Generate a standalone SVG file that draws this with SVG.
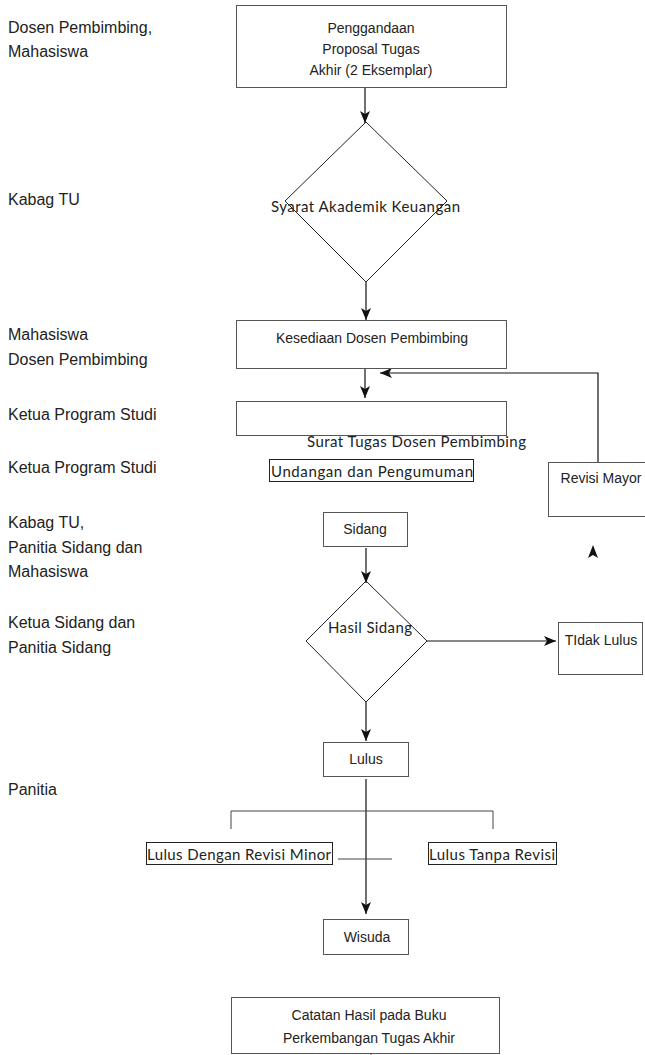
<svg xmlns="http://www.w3.org/2000/svg" width="645" height="1055" viewBox="0 0 645 1055">
<defs>
<style>
.lbl{font-family:"Liberation Sans",Arial,sans-serif;font-size:16px;fill:#222}
.t{font-family:"Liberation Sans",Arial,sans-serif;font-size:14px;fill:#222;text-anchor:middle}
.c{font-family:Lato,"Open Sans",sans-serif;font-size:15px;fill:#222}
.box{fill:#fff;stroke:#555;stroke-width:1}
.tbox{fill:none;stroke:#222;stroke-width:1}
.ln{fill:none;stroke:#111;stroke-width:1.2}
.gl{fill:none;stroke:#444;stroke-width:1}
</style>
<marker id="ah" viewBox="0 0 12 10" refX="12" refY="5" markerWidth="12" markerHeight="10" markerUnits="userSpaceOnUse" orient="auto">
<path d="M0,0 L12,5 L0,10 L3,5 z" fill="#111"/>
</marker>
</defs>
<rect width="645" height="1055" fill="#fff"/>

<g id="lanes">
<text class="lbl" x="8" y="33">Dosen Pembimbing,</text>
<text class="lbl" x="8" y="57">Mahasiswa</text>
<text class="lbl" x="8" y="205">Kabag TU</text>
<text class="lbl" x="8" y="340">Mahasiswa</text>
<text class="lbl" x="8" y="365">Dosen Pembimbing</text>
<text class="lbl" x="8" y="420">Ketua Program Studi</text>
<text class="lbl" x="8" y="473">Ketua Program Studi</text>
<text class="lbl" x="8" y="528">Kabag TU,</text>
<text class="lbl" x="8" y="553">Panitia Sidang dan</text>
<text class="lbl" x="8" y="577">Mahasiswa</text>
<text class="lbl" x="8" y="628">Ketua Sidang dan</text>
<text class="lbl" x="8" y="653">Panitia Sidang</text>
<text class="lbl" x="8" y="795">Panitia</text>
</g>

<g id="connectors">
<line class="ln" x1="365" y1="87" x2="365" y2="123" marker-end="url(#ah)"/>
<line class="ln" x1="366" y1="282" x2="366" y2="320" marker-end="url(#ah)"/>
<line class="ln" x1="365" y1="359" x2="365" y2="398" marker-end="url(#ah)"/>
<polyline class="ln" points="598,462 598,373 380,373" marker-end="url(#ah)"/>
<line class="ln" x1="366" y1="548" x2="366" y2="583" marker-end="url(#ah)"/>
<line class="ln" x1="427" y1="641" x2="556" y2="641" marker-end="url(#ah)"/>
<line class="ln" x1="366" y1="702" x2="366" y2="741" marker-end="url(#ah)"/>
<line class="ln" x1="366" y1="779" x2="366" y2="914" marker-end="url(#ah)"/>
<polyline class="gl" points="231,829 231,811 493,811 493,829"/>
<line class="gl" x1="338" y1="859" x2="392" y2="859"/>
<path d="M593,545 L598,558 L593,555 L588,558 z" fill="#111"/>
<line class="gl" x1="371" y1="1048" x2="371" y2="1055"/>
</g>

<g id="penggandaan">
<rect class="box" x="236.5" y="5.5" width="270" height="82"/>
<text class="t" x="371" y="33">Penggandaan</text>
<text class="t" x="371" y="54">Proposal Tugas</text>
<text class="t" x="371" y="75">Akhir (2 Eksemplar)</text>
</g>

<g id="syarat">
<polygon class="box" points="366,122 447,201 366,282 285,201" fill="none" style="fill:none;stroke:#222"/>
<text class="c" x="271" y="212" textLength="189">Syarat Akademik Keuangan</text>
</g>

<g id="kesediaan">
<rect class="box" x="236.5" y="320.5" width="270" height="48"/>
<text class="t" x="372" y="343">Kesediaan Dosen Pembimbing</text>
</g>

<g id="surat">
<rect class="box" x="236.5" y="401.5" width="270" height="34"/>
<text class="c" x="307" y="447" textLength="219">Surat Tugas Dosen Pembimbing</text>
</g>

<g id="undangan">
<rect class="tbox" x="269.5" y="459.5" width="204" height="22"/>
<text class="c" x="271" y="477" textLength="202">Undangan dan Pengumuman</text>
</g>

<g id="revisi-mayor">
<rect class="box" x="548.5" y="462.5" width="100" height="54"/>
<text class="t" x="601" y="483">Revisi Mayor</text>
</g>

<g id="sidang">
<rect class="box" x="323.5" y="512.5" width="84" height="34"/>
<text class="t" x="365" y="534">Sidang</text>
</g>

<g id="hasil-sidang">
<polygon points="366,581 427,641 366,702 306,641" style="fill:none;stroke:#222;stroke-width:1"/>
<text class="c" x="328" y="633" textLength="84">Hasil Sidang</text>
</g>

<g id="tidak-lulus">
<rect class="box" x="558.5" y="622.5" width="84" height="52"/>
<text class="t" x="601" y="645">TIdak Lulus</text>
</g>

<g id="lulus">
<rect class="box" x="323.5" y="742.5" width="85" height="34"/>
<text class="t" x="366" y="764">Lulus</text>
</g>

<g id="revisi-minor">
<rect class="tbox" x="146.5" y="842.5" width="186" height="22"/>
<text class="c" x="147" y="860" textLength="184">Lulus Dengan Revisi Minor</text>
</g>

<g id="tanpa-revisi">
<rect class="tbox" x="428.5" y="842.5" width="128" height="22"/>
<text class="c" x="429" y="860" textLength="126">Lulus Tanpa Revisi</text>
</g>

<g id="wisuda">
<rect class="box" x="323.5" y="919.5" width="85" height="35"/>
<text class="t" x="367" y="942">Wisuda</text>
</g>

<g id="catatan">
<rect class="box" x="231.5" y="997.5" width="268" height="56"/>
<text class="t" x="369" y="1020">Catatan Hasil pada Buku</text>
<text class="t" x="369" y="1043">Perkembangan Tugas Akhir</text>
</g>
</svg>
